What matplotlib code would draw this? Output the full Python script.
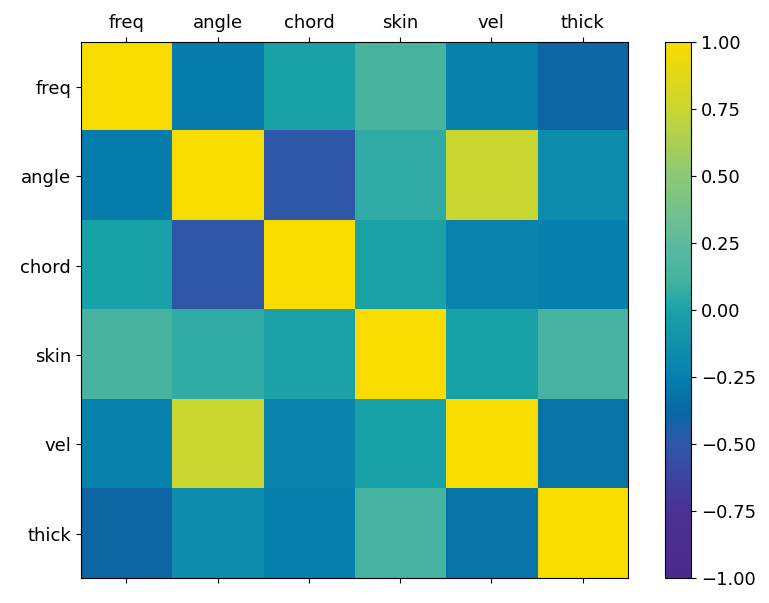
import numpy as np
import matplotlib
matplotlib.use("Agg")
import matplotlib.pyplot as plt
from matplotlib.colors import LinearSegmentedColormap

names = ["freq", "angle", "chord", "skin", "vel", "thick"]

# pairwise correlation coefficients
corr = np.array([
    [1.000, -0.273, -0.004, 0.134, -0.230, -0.391],
    [-0.273, 1.000, -0.505, 0.059, 0.753, -0.156],
    [-0.004, -0.505, 1.000, 0.004, -0.221, -0.237],
    [0.134, 0.059, 0.004, 1.000, -0.004, 0.125],
    [-0.230, 0.753, -0.221, -0.004, 1.000, -0.313],
    [-0.391, -0.156, -0.237, 0.125, -0.313, 1.000],
])

# parula-like map, stops given on the 0..1 scale
cmap = LinearSegmentedColormap.from_list("parulaish", [
    (0.000, "#4b2b8d"),
    (0.125, "#4a3192"),
    (0.250, "#2f58a8"),
    (0.310, "#0868a2"),
    (0.375, "#0680ae"),
    (0.500, "#1aa2a8"),
    (0.560, "#45b4a0"),
    (0.625, "#5cbaa0"),
    (0.750, "#8cc878"),
    (0.875, "#c8d632"),
    (1.000, "#f8dc00"),
])

fig = plt.figure(figsize=(7.69, 6.03), dpi=100)
ax = fig.add_axes([0.105, 0.041, 0.712, 0.889])
cax = fig.add_axes([0.865, 0.041, 0.034, 0.889])

im = ax.matshow(corr, vmin=-1, vmax=1, cmap=cmap, aspect="auto")
ticks = np.arange(-1, 1.01, 0.25)
cb = fig.colorbar(im, cax=cax, ticks=ticks)
cb.ax.tick_params(labelsize=13)
cb.ax.set_yticklabels(["%.2f" % t if t >= 0 else "\u2212%.2f" % -t for t in ticks])

ax.set_xticks(range(len(names)))
ax.set_yticks(range(len(names)))
ax.set_xticklabels(names, fontsize=13)
ax.set_yticklabels(names, fontsize=13)

fig.savefig("out.png", dpi=100)
